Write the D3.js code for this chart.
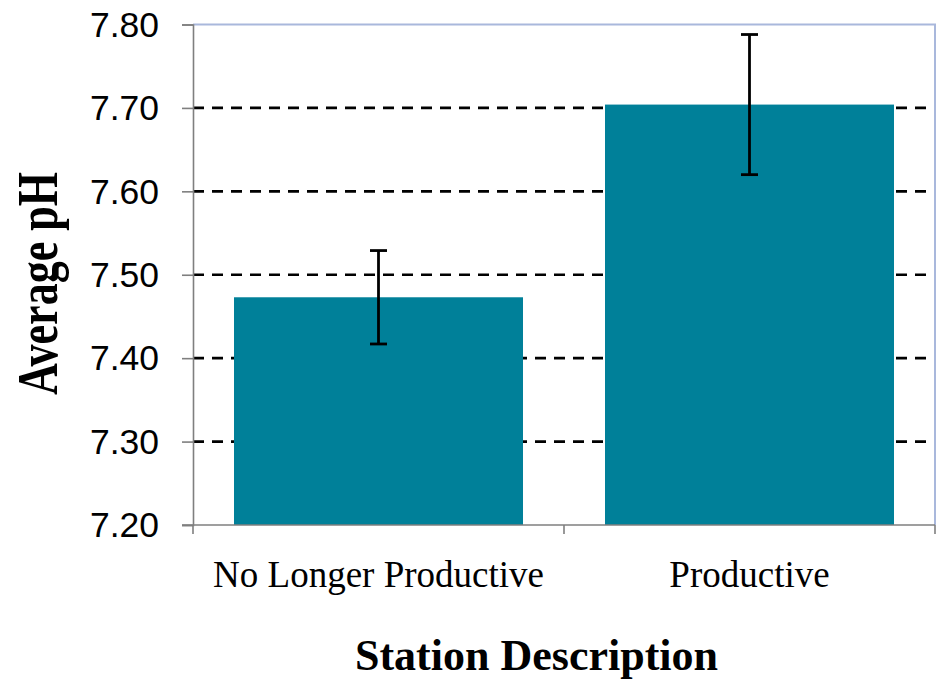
<!DOCTYPE html>
<html>
<head>
<meta charset="utf-8">
<script src="https://cdn.jsdelivr.net/npm/d3@7"></script>
<style>
  html, body { margin: 0; padding: 0; background: #ffffff; }
  svg { display: block; }
</style>
</head>
<body>
<svg id="chart" width="945" height="679"></svg>
<script>
// Data
const categories = ["No Longer Productive", "Productive"];
const meanPH = [7.473, 7.704];
const errorPH = [0.056, 0.084];
const yTicks = [7.20, 7.30, 7.40, 7.50, 7.60, 7.70, 7.80];
const xTitle = "Station Description";
const yTitle = "Average pH";

const W = 945, H = 679;
const margin = { top: 24.5, right: 10, bottom: 154, left: 193 };
const svg = d3.select("#chart");

const x = d3.scaleBand()
  .domain(categories)
  .range([margin.left, W - margin.right])
  .paddingInner(0.221)
  .paddingOuter(0.1105);

const y = d3.scaleLinear()
  .domain([7.20, 7.80])
  .range([H - margin.bottom, margin.top]);

const x0 = margin.left, x1 = W - margin.right;
const yb = H - margin.bottom, yt = margin.top;

// Dashed gridlines (interior ticks)
svg.append("g")
  .selectAll("line")
  .data(yTicks.filter(t => t > 7.2 + 1e-9 && t < 7.8 - 1e-9))
  .join("line")
  .attr("x1", x0).attr("x2", x1)
  .attr("y1", d => y(d)).attr("y2", d => y(d))
  .attr("stroke", "#000")
  .attr("stroke-width", 2.6)
  .attr("stroke-dasharray", "11,8");

// Frame top and right (light blue)
svg.append("path")
  .attr("d", `M${x0},${yt}H${x1}V${yb}`)
  .attr("fill", "none")
  .attr("stroke", "#a9b8dc")
  .attr("stroke-width", 2);

// Bars
const data = categories.map((c, i) => ({ c, m: meanPH[i], e: errorPH[i] }));
svg.append("g")
  .selectAll("rect")
  .data(data)
  .join("rect")
  .attr("x", d => x(d.c))
  .attr("width", x.bandwidth())
  .attr("y", d => y(d.m))
  .attr("height", d => y(7.20) - y(d.m))
  .attr("fill", "#008099");

// Error bars
const eg = svg.append("g").attr("stroke", "#000").attr("stroke-width", 2.8);
data.forEach(d => {
  const cx = x(d.c) + x.bandwidth() / 2;
  eg.append("line").attr("x1", cx).attr("x2", cx)
    .attr("y1", y(d.m + d.e)).attr("y2", y(d.m - d.e));
  [d.m + d.e, d.m - d.e].forEach(v => {
    eg.append("line").attr("x1", cx - 8.5).attr("x2", cx + 8.5)
      .attr("y1", y(v)).attr("y2", y(v));
  });
});

// Y axis
const yAxis = svg.append("g")
  .attr("transform", `translate(${x0},0)`)
  .call(d3.axisLeft(y).tickValues(yTicks).tickFormat(d3.format(".2f")).tickSize(11).tickPadding(23));
yAxis.select(".domain").attr("stroke", "#7f7f7f").attr("stroke-width", 1.6);
yAxis.selectAll(".tick line").attr("stroke", "#7f7f7f").attr("stroke-width", 1.6);
yAxis.selectAll(".tick text")
  .attr("font-family", "'Liberation Sans', Arial, sans-serif")
  .attr("font-size", 35.5)
  .attr("fill", "#000")
  .attr("dy", "0.33em");

// X axis
const xg = svg.append("g");
xg.append("line").attr("x1", x0 - 11).attr("x2", x1)
  .attr("y1", yb).attr("y2", yb)
  .attr("stroke", "#7f7f7f").attr("stroke-width", 1.6);
const edges = categories.map(c => x(c) - (x.step() - x.bandwidth()) / 2).concat([x1]);
xg.selectAll("line.tk").data(edges).join("line").attr("class", "tk")
  .attr("x1", d => d).attr("x2", d => d)
  .attr("y1", yb).attr("y2", yb + 9)
  .attr("stroke", "#7f7f7f").attr("stroke-width", 1.6);
xg.selectAll("text").data(categories).join("text")
  .attr("x", d => x(d) + x.bandwidth() / 2)
  .attr("y", 587)
  .attr("text-anchor", "middle")
  .attr("font-family", "'Liberation Serif', 'Times New Roman', serif")
  .attr("font-size", 37)
  .attr("fill", "#000")
  .text(d => d);

// Axis titles
svg.append("text")
  .attr("x", 536.5).attr("y", 670)
  .attr("text-anchor", "middle")
  .attr("font-family", "'Liberation Serif', 'Times New Roman', serif")
  .attr("font-weight", "bold")
  .attr("font-size", 44)
  .attr("fill", "#000")
  .text(xTitle);

svg.append("text")
  .attr("transform", "translate(57,283.5) rotate(-90)")
  .attr("text-anchor", "middle")
  .attr("font-family", "'Liberation Serif', 'Times New Roman', serif")
  .attr("font-weight", "bold")
  .attr("font-size", 58)
  .attr("textLength", 223)
  .attr("lengthAdjust", "spacingAndGlyphs")
  .attr("fill", "#000")
  .text(yTitle);
</script>
</body>
</html>
